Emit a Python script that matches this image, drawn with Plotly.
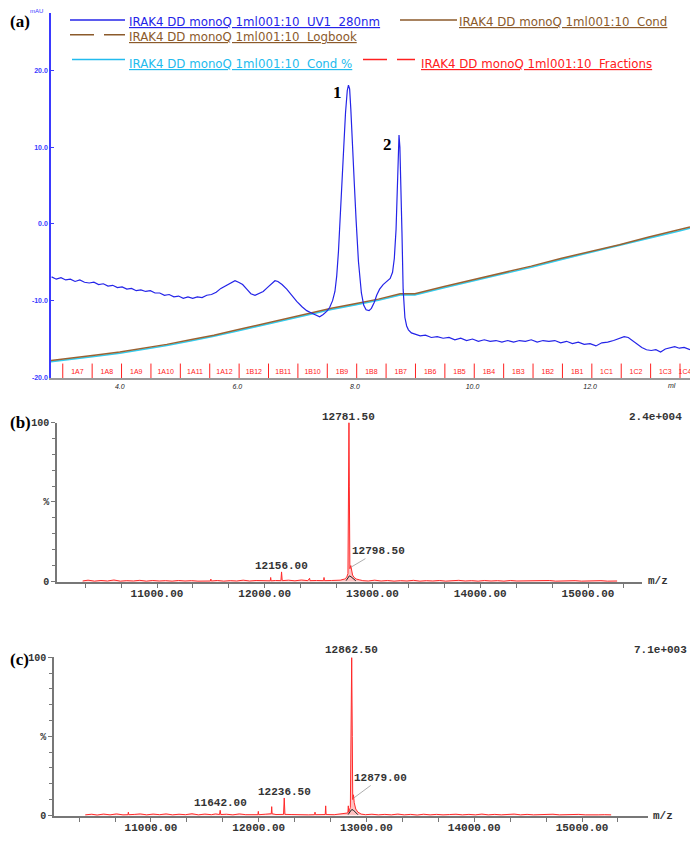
import plotly.graph_objects as go

# page body has an 8px margin, so the figure is drawn 8px smaller and every
# reference pixel position is shifted by that amount
OFF = 8
W, H = 700 - OFF, 843 - OFF

# ---- panel (a): monoQ chromatogram ----
uv_ml = [2.84, 2.92, 3.00, 3.08, 3.16, 3.24, 3.32, 3.40, 3.48, 3.56, 3.64, 3.72, 3.80, 3.88, 3.96,
         4.04, 4.12, 4.20, 4.28, 4.36, 4.44, 4.52, 4.60, 4.68, 4.76, 4.84, 4.92, 5.00, 5.08, 5.16,
         5.24, 5.32, 5.40, 5.48, 5.56, 5.64, 5.72, 5.80, 5.88, 5.96, 6.02, 6.09, 6.16, 6.23, 6.30,
         6.37, 6.44, 6.51, 6.58, 6.64, 6.69, 6.76, 6.84, 6.92, 7.01, 7.10, 7.18, 7.26, 7.33, 7.40,
         7.46, 7.52, 7.57, 7.62, 7.66, 7.69, 7.72, 7.75, 7.78, 7.81, 7.84, 7.87, 7.89, 7.91, 7.93,
         7.96, 7.99, 8.02, 8.06, 8.11, 8.15, 8.19, 8.24, 8.28, 8.33, 8.37, 8.42, 8.48, 8.54, 8.60,
         8.64, 8.67, 8.70, 8.72, 8.735, 8.75, 8.765, 8.78, 8.80, 8.82, 8.85, 8.88, 8.91, 8.96, 9.03,
         9.11, 9.20, 9.30, 9.40, 9.50, 9.60, 9.70, 9.80, 9.90, 10.00, 10.10, 10.20, 10.30, 10.40,
         10.50, 10.60, 10.70, 10.80, 10.90, 11.00, 11.10, 11.20, 11.30, 11.40, 11.50, 11.60, 11.70,
         11.80, 11.90, 12.00, 12.10, 12.20, 12.30, 12.40, 12.50, 12.58, 12.65, 12.72, 12.80, 12.88,
         12.96, 13.04, 13.12, 13.20, 13.28, 13.36, 13.44, 13.52, 13.60, 13.70]
uv_mau = [-6.9, -7.2, -7.0, -7.3, -7.2, -7.5, -7.3, -7.6, -7.7, -7.6, -7.9, -7.8, -8.1, -8.0, -8.3,
          -8.2, -8.5, -8.4, -8.7, -8.6, -8.8, -8.7, -9.0, -9.0, -9.3, -9.2, -9.5, -9.4, -9.7, -9.5,
          -9.7, -9.5, -9.6, -9.3, -9.2, -8.9, -8.4, -8.1, -7.8, -7.4, -7.6, -7.9, -8.5, -9.1, -9.3,
          -9.1, -8.8, -8.3, -7.8, -7.4, -7.5, -7.9, -8.5, -9.3, -10.1, -10.8, -11.3, -11.6, -11.9, -12.1,
          -11.8, -11.4, -10.9, -10.0, -8.8, -6.8, -3.6, 0.5, 5.0, 10.0, 14.5, 17.4, 18.1, 17.6, 15.0,
          10.8, 5.2, 0.5, -4.9, -9.0, -10.6, -11.2, -11.3, -11.0, -10.2, -9.3, -8.5, -7.9, -7.5, -7.1,
          -6.3, -4.5, -0.7, 4.5, 8.5, 11.6, 10.0, 6.0, -1.0, -8.5, -12.2, -13.3, -13.8, -14.2, -14.4,
          -14.6, -14.5, -14.8, -14.7, -14.9, -14.8, -15.1, -14.9, -15.2, -15.0, -15.3, -15.1, -15.3, -15.2,
          -15.4, -15.2, -15.4, -15.2, -15.3, -15.1, -15.4, -15.2, -15.3, -15.2, -15.5, -15.3, -15.6,
          -15.4, -15.7, -15.6, -15.9, -15.5, -15.4, -15.2, -14.9, -14.7, -14.8, -15.2, -15.7, -16.1,
          -16.4, -16.5, -16.4, -16.7, -16.3, -16.2, -16.0, -16.2, -16.1, -16.4]

cond_ml = [2.83, 3.2, 3.6, 4.0, 4.4, 4.8, 5.2, 5.6, 6.0, 6.4, 6.8, 7.2, 7.6, 8.0, 8.4, 8.77, 9.02,
           9.5, 10.0, 10.5, 11.0, 11.5, 12.0, 12.5, 13.0, 13.5, 13.70]
cond_val = [-17.8, -17.5, -17.1, -16.7, -16.2, -15.7, -15.1, -14.5, -13.8, -13.1, -12.4, -11.7,
            -11.0, -10.4, -9.8, -9.1, -9.1, -8.2, -7.3, -6.4, -5.5, -4.5, -3.6, -2.7, -1.7, -0.8, -0.4]
cond_pct = [-17.95, -17.65, -17.25, -16.85, -16.35, -15.85, -15.25, -14.65, -13.95, -13.25, -12.55,
            -11.85, -11.15, -10.55, -9.95, -9.25, -9.25, -8.35, -7.45, -6.55, -5.65, -4.65, -3.75,
            -2.85, -1.85, -0.95, -0.55]

frac_start = [3.03, 3.53, 4.03, 4.53, 5.03, 5.53, 6.03, 6.53, 7.03, 7.53, 8.03, 8.53, 9.03, 9.53,
              10.03, 10.53, 11.03, 11.53, 12.03, 12.53, 13.03, 13.53]
frac_names = ["1A7", "1A8", "1A9", "1A10", "1A11", "1A12", "1B12", "1B11", "1B10", "1B9", "1B8",
              "1B7", "1B6", "1B5", "1B4", "1B3", "1B2", "1B1", "1C1", "1C2", "1C3", "1C4"]

NB = "\u00a0"
legend_names = [f"IRAK4 DD monoQ 1ml001:10 {NB}UV1 {NB}280nm", f"IRAK4 DD monoQ 1ml001:10 {NB}Cond",
                f"IRAK4 DD monoQ 1ml001:10 {NB}Logbook", f"IRAK4 DD monoQ 1ml001:10 {NB}Cond %",
                f"IRAK4 DD monoQ 1ml001:10 {NB}Fractions"]

# ---- panel (b): deconvoluted mass spectrum ----
mz_b = [10310, 10360, 10420, 10480, 10540, 10600, 10660, 10720, 10780, 10840, 10900, 10960, 11020,
        11080, 11140, 11200, 11260, 11320, 11380, 11440, 11496, 11500, 11504, 11560, 11620, 11680,
        11740, 11800, 11860, 11920, 11980, 12040, 12051, 12055, 12059, 12100, 12150, 12156, 12162,
        12220, 12280, 12340, 12400, 12416, 12420, 12480, 12546, 12550, 12554, 12620, 12700, 12740,
        12760, 12772, 12778, 12781.5, 12785, 12790, 12798.5, 12806, 12815, 12830, 12850, 12880,
        12910, 12960, 13020, 13080, 13140, 13200, 13260, 13320, 13380, 13440, 13500, 13560, 13620,
        13680, 13740, 13800, 13860, 13920, 13980, 14040, 14100, 14160, 14220, 14280, 14340, 14400,
        14460, 14520, 14580, 14640, 14700, 14760, 14820, 14880, 14940, 15000, 15060, 15120, 15180, 15270]
int_b = [0.3, 0.8, 0.2, 0.6, 0.3, 0.9, 0.2, 0.5, 0.3, 0.7, 0.2, 0.6, 0.3,
         0.5, 0.2, 0.6, 0.3, 0.5, 0.2, 0.4, 0.3, 1.5, 0.3, 0.6, 0.2, 0.5,
         0.3, 0.8, 0.3, 0.6, 0.4, 0.5, 0.4, 2.5, 0.4, 0.6, 0.5, 6.0, 0.5,
         0.8, 0.4, 0.9, 0.5, 2.0, 0.5, 0.6, 0.5, 2.5, 0.5, 0.6, 0.8, 1.5,
         2.5, 5.0, 60.0, 100.0, 60.0, 8.0, 10.0, 6.0, 4.0, 2.5, 1.5, 1.0,
         0.5, 0.3, 0.8, 0.3, 0.6, 0.2, 0.5, 0.3, 0.7, 0.2, 0.5, 0.3, 0.6,
         0.2, 0.4, 0.7, 0.3, 0.5, 0.2, 0.6, 0.3, 0.5, 0.2, 0.6, 0.3, 0.4,
         0.2, 0.5, 0.3, 0.6, 0.2, 0.4, 0.3, 0.5, 0.2, 0.4, 0.3, 0.5, 0.2, 0.3]
base_b_mz = [12755, 12770, 12785, 12800, 12815, 12830, 12845]
base_b_int = [0.5, 2.5, 3.5, 3.0, 2.0, 1.0, 0.4]

# ---- panel (c) ----
mz_c = [10390, 10450, 10500, 10560, 10620, 10680, 10740, 10786, 10790, 10794, 10850, 10900, 10960,
        11020, 11080, 11140, 11200, 11260, 11320, 11380, 11440, 11500, 11560, 11600, 11636, 11642,
        11648, 11700, 11760, 11820, 11880, 11940, 11992, 11996, 12000, 12060, 12100, 12116, 12120,
        12124, 12160, 12230, 12236.5, 12243, 12300, 12360, 12400, 12460, 12518, 12522, 12526, 12580,
        12617, 12621, 12625, 12700, 12760, 12800, 12827, 12831, 12835, 12850, 12856, 12862.5, 12868,
        12872, 12879, 12886, 12900, 12920, 12950, 12990, 13050, 13110, 13170, 13230, 13290, 13350,
        13410, 13470, 13530, 13590, 13650, 13710, 13770, 13830, 13890, 13950, 14010, 14070, 14130,
        14190, 14250, 14310, 14370, 14430, 14490, 14550, 14610, 14670, 14730, 14790, 14850, 14910,
        14970, 15030, 15090, 15150, 15210, 15270]
int_c = [0.3, 0.7, 0.2, 0.8, 0.3, 0.9, 0.3, 0.4, 2.0, 0.4, 0.6, 0.9, 0.3,
         0.8, 0.4, 0.9, 0.3, 0.7, 0.4, 1.0, 0.3, 0.8, 0.4, 0.9, 0.5, 3.2,
         0.5, 0.7, 0.3, 0.9, 0.4, 0.6, 0.4, 2.5, 0.4, 0.7, 0.6, 1.0, 5.5,
         1.0, 0.5, 0.6, 11.0, 0.6, 0.5, 0.3, 0.6, 0.3, 0.4, 2.0, 0.4, 0.5,
         0.5, 6.0, 0.5, 0.4, 0.8, 1.5, 1.5, 6.0, 2.0, 5.0, 50.0, 100.0, 50.0,
         10.0, 13.0, 8.0, 4.0, 2.0, 0.8, 0.4, 0.7, 0.3, 0.6, 0.3, 0.8, 0.3,
         0.6, 0.2, 0.7, 0.3, 0.6, 0.3, 0.5, 0.7, 0.3, 0.6, 0.3, 0.8, 0.3,
         0.6, 0.3, 0.5, 0.8, 0.3, 0.6, 0.3, 0.5, 0.3, 0.7, 0.3, 0.5, 0.3,
         0.6, 0.3, 0.5, 0.3, 0.4, 0.3]
base_c_mz = [12830, 12845, 12860, 12875, 12890, 12905, 12920]
base_c_int = [0.5, 2.5, 3.5, 3.5, 2.5, 1.2, 0.4]


def px(x):
    return (x - OFF) / W


def py(y):
    return 1 - (y - OFF) / H


fig = go.Figure()

# panel (a) traces
fig.add_trace(go.Scatter(x=cond_ml, y=cond_pct, mode="lines", line=dict(color="#33ccee", width=1.6),
                         xaxis="x", yaxis="y", hoverinfo="skip"))
fig.add_trace(go.Scatter(x=cond_ml, y=cond_val, mode="lines", line=dict(color="#9a6232", width=1.5),
                         xaxis="x", yaxis="y", hoverinfo="skip"))
fig.add_trace(go.Scatter(x=uv_ml, y=uv_mau, mode="lines", line=dict(color="#2424e8", width=1.2),
                         xaxis="x", yaxis="y"))

fx, fy = [], []
for s in frac_start:
    fx += [s, s, None]
    fy += [-20.1, -18.2, None]
fig.add_trace(go.Scatter(x=fx, y=fy, mode="lines", line=dict(color="#ff2020", width=1),
                         xaxis="x", yaxis="y", hoverinfo="skip"))
label_x = []
for i, s in enumerate(frac_start):
    nxt = frac_start[i + 1] if i + 1 < len(frac_start) else 13.70
    label_x.append((s + nxt) / 2)
fig.add_trace(go.Scatter(x=label_x, y=[-19.3] * len(label_x), mode="text", text=frac_names,
                         textfont=dict(color="#ff2020", size=7, family="Arial"),
                         xaxis="x", yaxis="y", hoverinfo="skip"))

# panel (b) traces
fig.add_trace(go.Scatter(x=mz_b, y=int_b, mode="lines", line=dict(color="#ff2a2a", width=1),
                         fill="tozeroy", fillcolor="rgba(255,80,80,0.35)", xaxis="x2", yaxis="y2"))
fig.add_trace(go.Scatter(x=base_b_mz, y=base_b_int, mode="lines", line=dict(color="#222", width=1),
                         xaxis="x2", yaxis="y2"))
# panel (c) traces
fig.add_trace(go.Scatter(x=mz_c, y=int_c, mode="lines", line=dict(color="#ff2a2a", width=1),
                         fill="tozeroy", fillcolor="rgba(255,80,80,0.35)", xaxis="x3", yaxis="y3"))
fig.add_trace(go.Scatter(x=base_c_mz, y=base_c_int, mode="lines", line=dict(color="#222", width=1),
                         xaxis="x3", yaxis="y3"))

mono = dict(family="Liberation Mono", size=11, color="#333333", weight="bold")
ms_x = [11000, 12000, 13000, 14000, 15000]


def ms_xaxis(dom, rng, anchor):
    return dict(domain=dom, range=rng, anchor=anchor,
                showline=True, linecolor="#777", linewidth=1.5, showgrid=False, zeroline=False,
                tickvals=ms_x, ticktext=[f"{v}.00" for v in ms_x], ticks="", tickfont=mono,
                minor=dict(ticks="outside", ticklen=4, dtick=1000 / 3, tick0=11000, tickcolor="#777"))


def ms_yaxis(dom, anchor):
    return dict(domain=dom, range=[-0.6, 100], anchor=anchor,
                showline=True, linecolor="#777", linewidth=1.5, showgrid=False, zeroline=False,
                tickvals=[0, 50, 100], ticktext=["0", "%", "100"], ticks="outside", ticklen=4,
                tickcolor="#777", tickfont=dict(family="Liberation Mono", size=10, color="#333", weight="bold"),
                minor=dict(ticks="outside", ticklen=3, dtick=10, tickcolor="#777"))


fig.update_layout(
    width=W, height=H, margin=dict(l=0, r=0, t=0, b=0),
    paper_bgcolor="white", plot_bgcolor="white", showlegend=False,
    xaxis=dict(domain=[px(51), px(690)], range=[2.83, 13.70], anchor="y",
               showline=True, linecolor="#9a9a9a", linewidth=2, showgrid=False, zeroline=False,
               tickvals=[4, 6, 8, 10, 12], ticktext=["4.0", "6.0", "8.0", "10.0", "12.0"],
               ticks="", tickfont=dict(size=7, color="#222", family="Arial", style="italic")),
    yaxis=dict(domain=[py(378), py(8)], range=[-20.1, 27.5], anchor="x",
               showline=True, linecolor="#3a3aff", linewidth=1.5, showgrid=False, zeroline=False,
               tickvals=[-20, -10, 0, 10, 20], ticktext=["-20.0", "-10.0", "0.0", "10.0", "20.0"],
               ticks="inside", ticklen=3, tickcolor="#3a3aff",
               tickfont=dict(size=7, color="#3a3aff", family="Arial", weight="bold")),
    xaxis2=ms_xaxis([px(57), px(642)], [10072, 15501], "y2"),
    yaxis2=ms_yaxis([py(585), py(423)], "x2"),
    xaxis3=ms_xaxis([px(54), px(648)], [10100, 15612], "y3"),
    yaxis3=ms_yaxis([py(822), py(661)], "x3"),
)

ann = []


def note(text, x, y, font, xref="paper", yref="paper", xanchor="center", **kw):
    if xref == "paper":
        x = px(x)
    if yref == "paper":
        y = py(y)
    ann.append(dict(text=text, x=x, y=y, xref=xref, yref=yref, xanchor=xanchor, yanchor="middle",
                    showarrow=False, font=font, **kw))


serif = dict(family="Liberation Serif", size=17, color="black", weight="bold")
note("(a)", 8, 17, serif, xanchor="left")
note("(b)", 8, 423, serif, xanchor="left")
note("(c)", 8, 663, serif, xanchor="left")
note("mAU", 36, 6, dict(size=6, color="#3a3aff", family="Arial"))
note("ml", 13.4, 385, dict(size=7, color="#222", family="Arial", style="italic"), xref="x")
num = dict(family="Liberation Serif", size=17, color="black", weight="bold")
note("1", 7.70, 17.1, num, xref="x", yref="y")
note("2", 8.55, 10.3, num, xref="x", yref="y")

# legend of panel (a)
leg_font = dict(family="DejaVu Sans", size=11.8)
leg = [
    (legend_names[0], "#2424e8", 127, 17, (70, 125, 15), "solid"),
    (legend_names[1], "#8b5a2b", 457, 17, (400, 457, 15), "solid"),
    (legend_names[2], "#8b5a2b", 127, 32, (70, 125, 30), "dash"),
    (legend_names[3], "#22bbee", 127, 60, (72, 125, 55), "solid"),
    (legend_names[4], "#ff2020", 419, 60, (363, 415, 55), "dash"),
]
shapes = []
for name, col, tx, ty, (x0, x1, ly), dash in leg:
    note(f"<u>{name}</u>", tx, ty, dict(color=col, **leg_font), xanchor="left")
    shapes.append(dict(type="line", xref="paper", yref="paper", x0=px(x0), x1=px(x1),
                       y0=py(ly), y1=py(ly), line=dict(color=col, width=1.5,
                                                       dash="24px,10px" if dash == "dash" else "solid")))

# panel (b) labels
note("12781.50", 12781.5, 417, mono, xref="x2")
note("2.4e+004", 655, 417, mono)
note("12156.00", 12156, 10, mono, xref="x2", yref="y2")
ann.append(dict(text="12798.50", x=12801, y=9, xref="x2", yref="y2", ax=27, ay=-16,
                showarrow=True, arrowhead=0, arrowwidth=0.8, arrowcolor="#999", font=mono))
note("m/z", 658, 584, mono)
# panel (c) labels
note("12862.50", 12862.5, 653, mono, xref="x3")
note("7.1e+003", 660, 653, mono)
note("12236.50", 12236.5, 15, mono, xref="x3", yref="y3")
note("11642.00", 11642, 7.5, mono, xref="x3", yref="y3")
ann.append(dict(text="12879.00", x=12882, y=11, xref="x3", yref="y3", ax=27, ay=-20,
                showarrow=True, arrowhead=0, arrowwidth=0.8, arrowcolor="#999", font=mono))
note("m/z", 663, 822, mono)

fig.update_layout(annotations=ann, shapes=shapes)
fig.write_html("out.html")
